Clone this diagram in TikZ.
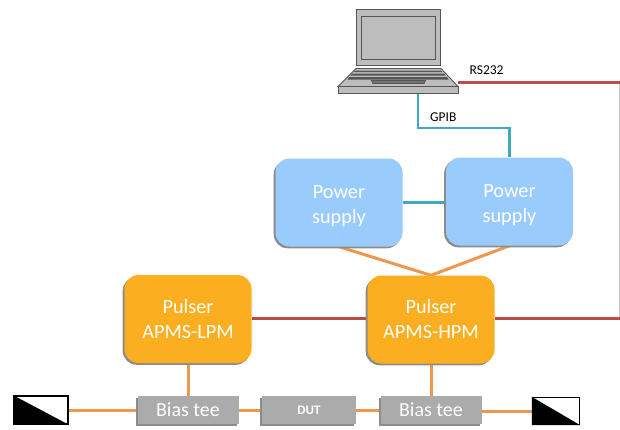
\documentclass[tikz,border=0pt]{standalone}
\usepackage{fontspec}
\setmainfont{Carlito}
\usetikzlibrary{shadows,backgrounds}
\definecolor{pblue}{HTML}{99CBFD}
\definecolor{porange}{HTML}{FBAE1F}
\definecolor{tgray}{HTML}{ABABAB}
\definecolor{wireorange}{HTML}{F0974E}
\definecolor{wirered}{HTML}{BE4B48}
\definecolor{wireblue}{HTML}{3CA9C6}
\definecolor{shadowgray}{HTML}{8C8C8C}
\definecolor{lapgray}{HTML}{BDBDBD}
\definecolor{lapdark}{HTML}{555555}
\tikzset{
 softshadow/.style={drop shadow={shadow xshift=-1.8pt,shadow yshift=-1.8pt,fill=shadowgray,opacity=1}},
 bigbox/.style={rectangle,rounded corners=14pt,inner sep=0pt,text=white,font=\fontsize{20.3}{25}\selectfont,align=center,minimum width=127pt,minimum height=88pt,softshadow},
 bluebox/.style={bigbox,fill=pblue},
 orangebox/.style={bigbox,fill=porange},
 teebox/.style={rectangle,fill=tgray,inner sep=0pt,text=white,font=\fontsize{20}{22}\selectfont,minimum height=28pt,softshadow},
 orangewire/.style={draw=wireorange,line width=3pt},
 redwire/.style={draw=wirered,line width=3pt},
 bluewire/.style={draw=wireblue,line width=2.5pt},
 lap/.style={draw=lapdark,line width=0.9pt,fill=lapgray},
 termbox/.style={rectangle,draw=black,line width=1.3pt,fill=white,inner sep=0pt},
 wirelabel/.style={font=\fontsize{13.5}{15}\selectfont,text=black,inner sep=0pt}
}
\begin{document}
\begin{tikzpicture}[x=1pt,y=-1pt]
\useasboundingbox (0,0) rectangle (620,429);

% laptop
\draw[lap] (356.5,9.5) rectangle (440,65.5);
\draw[lap] (361.5,16) rectangle (435.5,59.5);
\draw[lap] (356,68.5) -- (441,68.5) -- (458,86.5) -- (338,86.5) -- cycle;
\fill[lapdark] (355,70.5) -- (441,70.5) -- (442,72) -- (354,72) -- cycle;
\fill[lapdark] (352,73.5) -- (444,73.5) -- (445.5,75.5) -- (350.5,75.5) -- cycle;
\fill[lapdark] (349,77) -- (447,77) -- (448.5,79.5) -- (347.5,79.5) -- cycle;
\draw[lapdark,line width=0.7pt,fill=black!55] (373,83.5) -- (424,83.5) -- (425.5,80.5) -- (371.5,80.5) -- cycle;
\node[lap,rectangle,inner sep=0pt,minimum width=120pt,minimum height=6.5pt] (lapbase) at (398,90) {};

% boxes
\node[bluebox] (psa) at (339,202.5) {\rule{0pt}{21pt}Power\\supply};
\node[bluebox] (psb) at (509.5,201.5) {\rule{0pt}{21pt}Power\\supply};
\node[orangebox] (lpm) at (188,319) {Pulser\\APMS-LPM};
\node[orangebox] (hpm) at (431,319.5) {Pulser\\APMS-HPM};
\node[teebox,minimum width=101pt] (teea) at (188,410) {Bias tee};
\node[teebox,minimum width=94pt,font=\fontsize{13}{15}\selectfont\bfseries] (dut) at (309,410) {DUT};
\node[teebox,minimum width=101pt] (teeb) at (431,410) {Bias tee};
\node[termbox,minimum width=54pt,minimum height=28pt] (terma) at (41,410) {};
\node[termbox,minimum width=47pt,minimum height=27pt] (termb) at (556,411) {};
\fill[black] (terma.north west) -- (terma.south east) -- (terma.south west) -- cycle;
\fill[black] (termb.north west) -- (termb.south east) -- (termb.south west) -- cycle;

\coordinate (rtop) at (619,82);
\coordinate (rbot) at (619,318);
\coordinate (gpa) at (418,128);
\coordinate (gpb) at (509.5,128);

\begin{scope}[on background layer]
\draw[draw=black!22,line width=0.8pt] (rtop) -- (rbot);
\draw[redwire] (lapbase.east |- rtop) -- (rtop) -- ++(1,0);
\draw[redwire] (lpm.east |- rbot) -- (hpm.west |- rbot);
\draw[redwire] (hpm.east |- rbot) -- (rbot) -- ++(1,0);
\draw[bluewire] (lapbase.south -| gpa) -- (gpa) -- (gpb) -- (psb.north);
\draw[bluewire] (psa.east) -- (psa.east -| psb.west);
\draw[orangewire] (psa.south) -- (hpm.north);
\draw[orangewire] (psb.south) -- (hpm.north);
\draw[orangewire] (lpm.south) -- (teea.north);
\draw[orangewire] (hpm.south) -- (teeb.north);
\draw[orangewire] (terma.east) -- (teea.west);
\draw[orangewire] (teea.east) -- (dut.west);
\draw[orangewire] (dut.east) -- (teeb.west);
\draw[orangewire] (teeb.east |- termb.west) -- (termb.west);
\end{scope}

\node[wirelabel,anchor=west] (rs) at (469.5,70.5) {RS232};
\node[wirelabel,anchor=west] (gp) at (430,117) {GPIB};
\end{tikzpicture}
\end{document}
